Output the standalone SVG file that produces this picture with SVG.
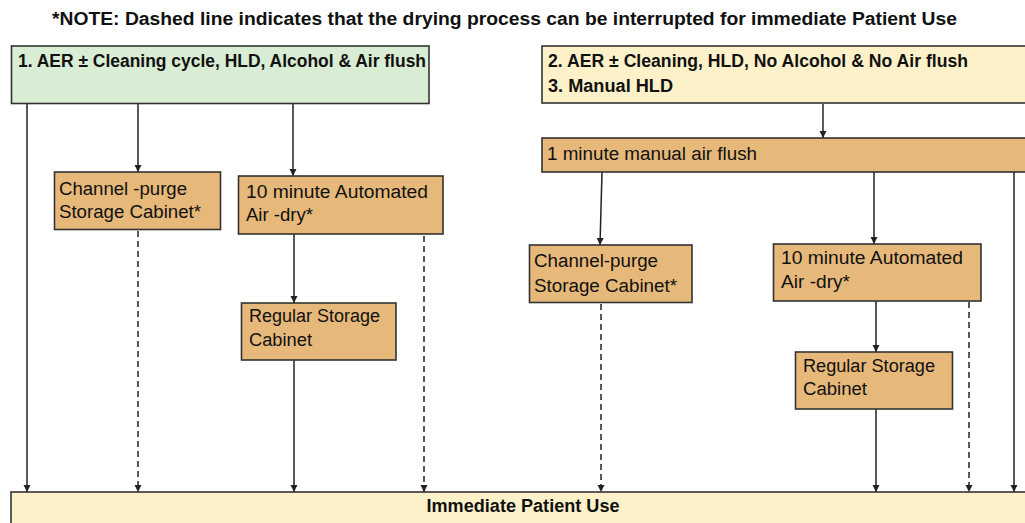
<svg xmlns="http://www.w3.org/2000/svg" width="1025" height="523" viewBox="0 0 1025 523">
  <style>
    .box { stroke: #333; stroke-width: 1.6; }
    .green { fill: #d9ecd4; }
    .cream { fill: #fdf1c9; }
    .tan { fill: #e6b87a; }
    .hd { font-family: "Liberation Sans", Arial, sans-serif; font-weight: bold; font-size: 17.5px; fill: #111; }
    .lb { font-family: "Liberation Sans", Arial, sans-serif; font-size: 18px; fill: #111; }
    .ln { stroke: #222; stroke-width: 1.5; fill: none; marker-end: url(#arrow); }
    .dash { stroke-dasharray: 6 4; }
  </style>
  <defs>
    <marker id="arrow" markerUnits="userSpaceOnUse" markerWidth="7" markerHeight="8" refX="7" refY="3.5" orient="auto">
      <path d="M0,0 L7,3.5 L0,7 z" fill="#222"/>
    </marker>
  </defs>

  <rect width="1025" height="523" fill="#fff"/>

  <!-- note -->
  <text class="hd" x="52" y="25" textLength="905" lengthAdjust="spacingAndGlyphs">*NOTE: Dashed line indicates that the drying process can be interrupted for immediate Patient Use</text>

  <!-- connectors -->
  <g id="connectors">
    <line class="ln" x1="27" y1="104" x2="27" y2="492"/>
    <line class="ln" x1="138" y1="104" x2="138" y2="172"/>
    <line class="ln dash" x1="138" y1="231" x2="138" y2="492"/>
    <line class="ln" x1="293" y1="104" x2="293" y2="176"/>
    <line class="ln" x1="294" y1="234" x2="294" y2="303"/>
    <line class="ln" x1="294" y1="360" x2="294" y2="492"/>
    <line class="ln dash" x1="424" y1="236" x2="424" y2="492"/>

    <line class="ln" x1="823" y1="104" x2="823" y2="138"/>
    <line class="ln" x1="602" y1="172" x2="600" y2="245"/>
    <line class="ln dash" x1="601" y1="304" x2="601" y2="492"/>
    <line class="ln" x1="874" y1="172" x2="874" y2="244"/>
    <line class="ln" x1="876" y1="301" x2="876" y2="352"/>
    <line class="ln" x1="876" y1="409" x2="876" y2="492"/>
    <line class="ln dash" x1="969" y1="302" x2="969" y2="492"/>
    <line class="ln" x1="1014" y1="172" x2="1014" y2="492"/>
  </g>

  <!-- group 1 header -->
  <g id="aer-alcohol">
    <rect class="box green" x="11.5" y="46" width="417.5" height="57.5"/>
    <text class="hd" x="18" y="67" textLength="408" lengthAdjust="spacingAndGlyphs">1. AER ± Cleaning cycle, HLD, Alcohol &amp; Air flush</text>
  </g>

  <!-- group 2/3 header -->
  <g id="aer-no-alcohol">
    <rect class="box cream" x="542" y="46" width="490" height="57"/>
    <text class="hd" x="548" y="67" textLength="420" lengthAdjust="spacingAndGlyphs">2. AER ± Cleaning, HLD, No Alcohol &amp; No Air flush</text>
    <text class="hd" x="548" y="92" textLength="125" lengthAdjust="spacingAndGlyphs">3. Manual HLD</text>
  </g>

  <g id="manual-air-flush">
    <rect class="box tan" x="542" y="138" width="490" height="34"/>
    <text class="lb" x="547" y="160" textLength="210" lengthAdjust="spacingAndGlyphs">1 minute manual air flush</text>
  </g>

  <!-- left column nodes -->
  <g id="channel-purge-1">
    <rect class="box tan" x="54.5" y="172" width="166" height="57.5"/>
    <text class="lb" x="59" y="195" textLength="128" lengthAdjust="spacingAndGlyphs">Channel -purge</text>
    <text class="lb" x="59" y="218" textLength="142" lengthAdjust="spacingAndGlyphs">Storage Cabinet*</text>
  </g>

  <g id="air-dry-1">
    <rect class="box tan" x="238.5" y="176" width="204.5" height="58"/>
    <text class="lb" x="246" y="198" textLength="182" lengthAdjust="spacingAndGlyphs">10 minute Automated</text>
    <text class="lb" x="246" y="221" textLength="67" lengthAdjust="spacingAndGlyphs">Air -dry*</text>
  </g>

  <g id="regular-storage-1">
    <rect class="box tan" x="241.5" y="303" width="154.5" height="57"/>
    <text class="lb" x="249" y="322" textLength="131" lengthAdjust="spacingAndGlyphs">Regular Storage</text>
    <text class="lb" x="249" y="346" textLength="63" lengthAdjust="spacingAndGlyphs">Cabinet</text>
  </g>

  <!-- right column nodes -->
  <g id="channel-purge-2">
    <rect class="box tan" x="529.5" y="245" width="162.5" height="57.5"/>
    <text class="lb" x="534" y="267" textLength="124" lengthAdjust="spacingAndGlyphs">Channel-purge</text>
    <text class="lb" x="534" y="292" textLength="143" lengthAdjust="spacingAndGlyphs">Storage Cabinet*</text>
  </g>

  <g id="air-dry-2">
    <rect class="box tan" x="773.5" y="244" width="207.5" height="57"/>
    <text class="lb" x="781" y="264" textLength="182" lengthAdjust="spacingAndGlyphs">10 minute Automated</text>
    <text class="lb" x="781" y="288" textLength="69" lengthAdjust="spacingAndGlyphs">Air -dry*</text>
  </g>

  <g id="regular-storage-2">
    <rect class="box tan" x="795.5" y="352" width="157" height="57"/>
    <text class="lb" x="803" y="372" textLength="132" lengthAdjust="spacingAndGlyphs">Regular Storage</text>
    <text class="lb" x="803" y="395" textLength="64" lengthAdjust="spacingAndGlyphs">Cabinet</text>
  </g>

  <!-- destination -->
  <g id="immediate-use">
    <rect class="box cream" x="11" y="492" width="1025" height="40"/>
    <text class="hd" x="523" y="512" text-anchor="middle" textLength="193" lengthAdjust="spacingAndGlyphs">Immediate Patient Use</text>
  </g>
</svg>
